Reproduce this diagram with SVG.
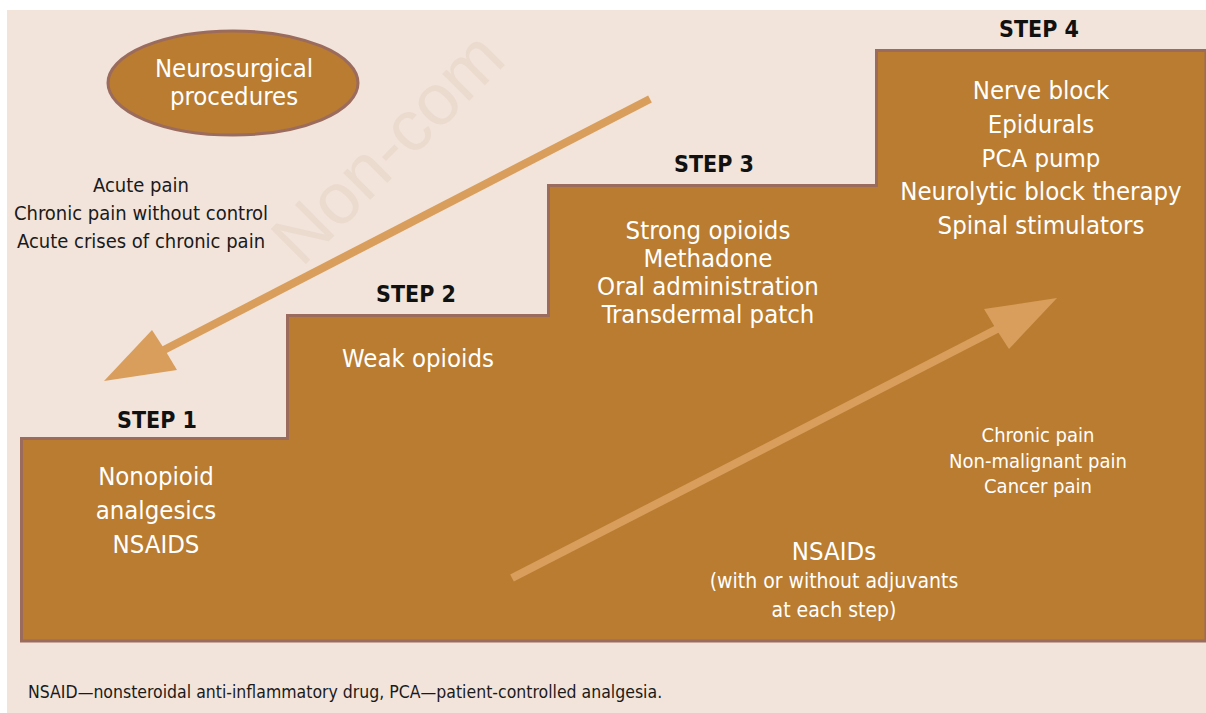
<svg xmlns="http://www.w3.org/2000/svg" width="1206" height="713" viewBox="0 0 1206 713">
  <defs>
    <style>
      text { font-family: "DejaVu Sans Condensed", "Liberation Sans Narrow", "Liberation Sans", sans-serif; text-anchor: middle; }
      .step { font-size: 23px; font-weight: bold; fill: #111111; }
      .big { font-size: 25.5px; fill: #ffffff; }
      .small { font-size: 20px; fill: #ffffff; }
      .dark { font-size: 20px; fill: #1a1a1a; }
      .arrow-line { stroke: #d99e5c; stroke-width: 8; fill: none; }
      .arrow-head { fill: #d99e5c; }
    </style>
  </defs>

  <!-- page -->
  <rect x="0" y="0" width="1206" height="713" fill="#ffffff"/>
  <rect x="7" y="10" width="1199" height="703" fill="#f2e4da"/>

  <!-- faint background lettering -->
  <text x="405" y="165" transform="rotate(-45 405 165)" style="font-family:'Liberation Sans',sans-serif;font-size:72px;fill:#e9d6c9;opacity:0.7">Non-com</text>

  <!-- staircase -->
  <g id="stairs">
    <path d="M21.5,641 L21.5,438.5 L287.5,438.5 L287.5,315.5 L548.5,315.5 L548.5,185.5 L876.5,185.5 L876.5,50.5 L1206,50.5 L1206,641 Z" fill="#b97c30" stroke="#9b6b5d" stroke-width="3"/>
  </g>

  <!-- neurosurgical procedures -->
  <g id="neurosurgical">
    <ellipse cx="233" cy="83" rx="125" ry="52" fill="#b97c30" stroke="#9b6b5d" stroke-width="3"/>
    <text class="big" x="234" y="77">Neurosurgical</text>
    <text class="big" x="234" y="105">procedures</text>
  </g>

  <g id="acute">
    <text class="dark" x="141" y="192">Acute pain</text>
    <text class="dark" x="141" y="220">Chronic pain without control</text>
    <text class="dark" x="141" y="248">Acute crises of chronic pain</text>
  </g>

  <g id="step1">
    <text class="step" x="157" y="428">STEP 1</text>
    <text class="big" x="156" y="485">Nonopioid</text>
    <text class="big" x="156" y="519">analgesics</text>
    <text class="big" x="156" y="553">NSAIDS</text>
  </g>

  <g id="step2">
    <text class="step" x="416" y="302">STEP 2</text>
    <text class="big" x="418" y="367">Weak opioids</text>
  </g>

  <g id="step3">
    <text class="step" x="714" y="172">STEP 3</text>
    <text class="big" x="708" y="239">Strong opioids</text>
    <text class="big" x="708" y="267">Methadone</text>
    <text class="big" x="708" y="295">Oral administration</text>
    <text class="big" x="708" y="323">Transdermal patch</text>
  </g>

  <g id="step4">
    <text class="step" x="1039" y="37">STEP 4</text>
    <text class="big" x="1041" y="99">Nerve block</text>
    <text class="big" x="1041" y="133">Epidurals</text>
    <text class="big" x="1041" y="167">PCA pump</text>
    <text class="big" x="1041" y="200">Neurolytic block therapy</text>
    <text class="big" x="1041" y="234">Spinal stimulators</text>
  </g>

  <g id="chronic">
    <text class="small" x="1038" y="442">Chronic pain</text>
    <text class="small" x="1038" y="468">Non-malignant pain</text>
    <text class="small" x="1038" y="493">Cancer pain</text>
  </g>

  <g id="nsaids">
    <text class="big" x="834" y="560">NSAIDs</text>
    <text class="small" x="834" y="588" style="font-size:21px">(with or without adjuvants</text>
    <text class="small" x="834" y="617" style="font-size:21px">at each step)</text>
  </g>

  <!-- connectors -->
  <g id="connectors">
    <line class="arrow-line" x1="650" y1="99" x2="160" y2="352"/>
    <polygon class="arrow-head" points="104,381 152,330 165,350 177,370"/>
    <line class="arrow-line" x1="512" y1="578" x2="1001" y2="327"/>
    <polygon class="arrow-head" points="1057,298 1009,349 996,329 984,309"/>
  </g>

  <text x="28" y="698" style="font-size:17.5px;fill:#1a1a1a;text-anchor:start">NSAID—nonsteroidal anti-inflammatory drug, PCA—patient-controlled analgesia.</text>
</svg>
